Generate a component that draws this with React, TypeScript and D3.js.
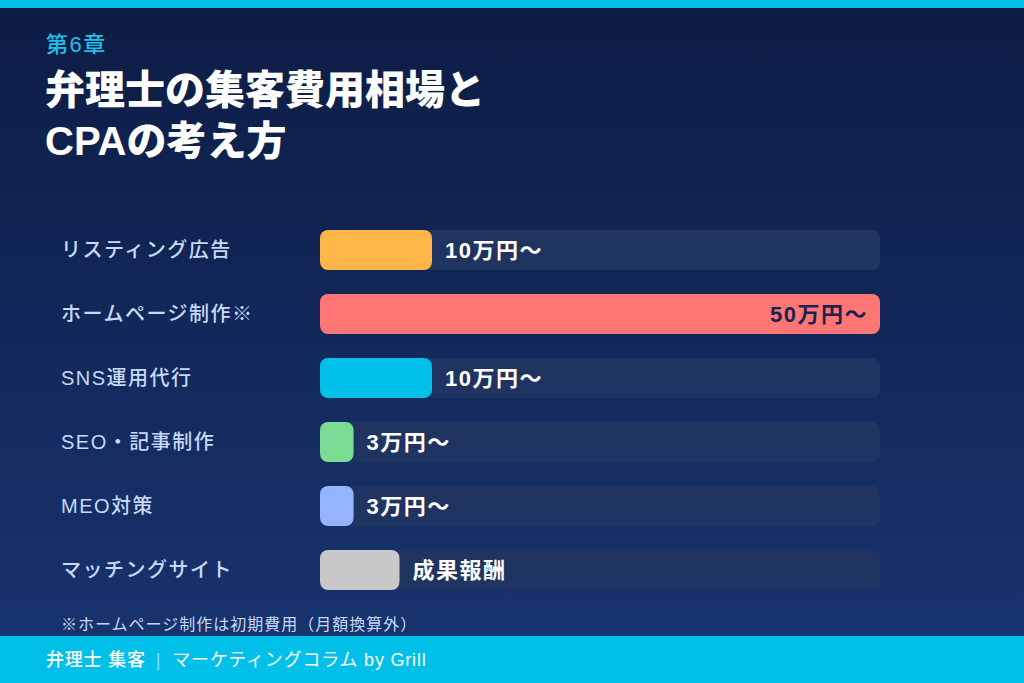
import React, { useEffect, useRef } from 'react';
import * as d3 from 'd3';

const categories = ['リスティング広告', 'ホームページ制作※', 'SNS運用代行', 'SEO・記事制作', 'MEO対策', 'マッチングサイト'];
const values = [10, 50, 10, 3, 3, 7.1];
const valueLabels = ['10万円〜', '50万円〜', '10万円〜', '3万円〜', '3万円〜', '成果報酬'];
const barColors = ['#ffb547', '#ff7675', '#00bfe8', '#7adb94', '#94b4ff', '#c8c8c8'];

const W = 1024;
const H = 683;
const FONT = '"Liberation Sans", "Noto Sans CJK JP", sans-serif';

const App = () => {
  const ref = useRef<SVGSVGElement>(null);

  useEffect(() => {
    const svg = d3.select(ref.current);
    svg.selectAll('*').remove();

    const defs = svg.append('defs');
    const grad = defs.append('linearGradient')
      .attr('id', 'bg').attr('x1', 0).attr('y1', 0).attr('x2', 0).attr('y2', 1);
    grad.append('stop').attr('offset', '0%').attr('stop-color', '#0d1c44');
    grad.append('stop').attr('offset', '100%').attr('stop-color', '#183571');

    svg.append('rect').attr('width', W).attr('height', H).attr('fill', 'url(#bg)');
    svg.append('rect').attr('width', W).attr('height', 8).attr('fill', '#00bfe8');

    // title
    svg.append('text').attr('x', 46).attr('y', 52)
      .attr('font-size', 22).attr('font-weight', 500).attr('letter-spacing', 1.5).attr('fill', '#1ec0ea')
      .attr('font-family', FONT).text('第6章');
    svg.append('text').attr('x', 45).attr('y', 104)
      .attr('font-size', 40).attr('font-weight', 900).attr('fill', '#ffffff')
      .attr('font-family', FONT).text('弁理士の集客費用相場と');
    svg.append('text').attr('x', 45).attr('y', 155)
      .attr('font-size', 40).attr('font-weight', 900).attr('fill', '#ffffff')
      .attr('font-family', FONT).text('CPAの考え方');

    const x = d3.scaleLinear().domain([0, 50]).range([320, 880]);
    const y = d3.scaleBand().domain(categories).range([230, 590]).paddingInner(0.375).paddingOuter(0);

    const rows = svg.append('g').selectAll('g')
      .data(categories)
      .enter()
      .append('g');

    rows.append('rect')
      .attr('x', x(0))
      .attr('y', d => y(d)!)
      .attr('width', x(50) - x(0))
      .attr('height', y.bandwidth())
      .attr('rx', 8)
      .attr('fill', '#1f3461');

    rows.append('rect')
      .attr('x', x(0))
      .attr('y', d => y(d)!)
      .attr('width', (d, i) => x(values[i]) - x(0))
      .attr('height', y.bandwidth())
      .attr('rx', 8)
      .attr('fill', (d, i) => barColors[i]);

    rows.append('text')
      .attr('x', 61)
      .attr('y', d => y(d)! + y.bandwidth() / 2)
      .attr('dy', '0.35em')
      .attr('font-size', 20)
      .attr('font-weight', 500)
      .attr('letter-spacing', 1.5)
      .attr('fill', '#c6d9f7')
      .attr('font-family', FONT)
      .text(d => d);

    rows.append('text')
      .attr('x', (d, i) => values[i] >= 50 ? x(values[i]) - 12 : x(values[i]) + 13)
      .attr('y', d => y(d)! + y.bandwidth() / 2)
      .attr('dy', '0.36em')
      .attr('text-anchor', (d, i) => values[i] >= 50 ? 'end' : 'start')
      .attr('font-size', 22)
      .attr('font-weight', 700)
      .attr('letter-spacing', 1.5)
      .attr('fill', (d, i) => values[i] >= 50 ? '#1b2450' : '#ffffff')
      .attr('font-family', FONT)
      .text((d, i) => valueLabels[i]);

    svg.append('text').attr('x', 61).attr('y', 630)
      .attr('font-size', 16).attr('letter-spacing', 1).attr('fill', '#c6d9f7')
      .attr('font-family', FONT).text('※ホームページ制作は初期費用（月額換算外）');

    // footer
    svg.append('rect').attr('y', 636).attr('width', W).attr('height', H - 636).attr('fill', '#00bfe8');
    const ft = svg.append('text').attr('x', 46).attr('y', 666)
      .attr('font-size', 18).attr('letter-spacing', 0.8).attr('fill', '#ffffff').attr('font-family', FONT);
    ft.append('tspan').attr('font-weight', 500).text('弁理士 集客');
    ft.append('tspan').attr('fill', '#8fe3f7').attr('dx', 10).text('|');
    ft.append('tspan').attr('dx', 11).text('マーケティングコラム by Grill');
  }, []);

  return <svg ref={ref} width={W} height={H} style={{ display: 'block', position: 'absolute', left: 0, top: 0 }} />;
};

export default App;
